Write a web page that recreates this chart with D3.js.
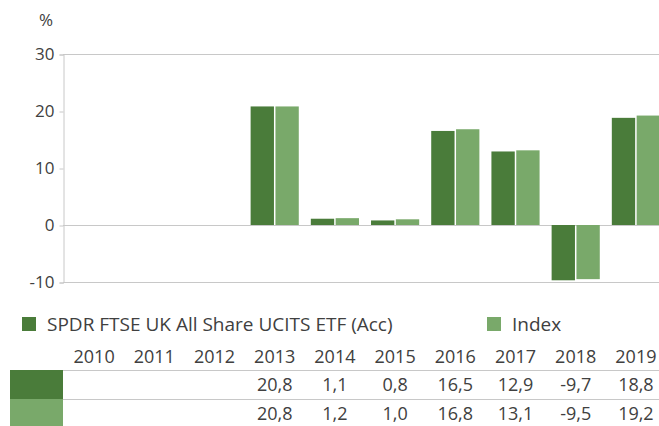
<!DOCTYPE html>
<html>
<head>
<meta charset="utf-8">
<script src="https://cdn.jsdelivr.net/npm/d3@7"></script>
<style>
  body { margin: 0; background: #fff; }
  text { font-family: "Open Sans", sans-serif; fill: #404040; }
</style>
</head>
<body>
<script>
var years = ['2010','2011','2012','2013','2014','2015','2016','2017','2018','2019'];
var fundVals = [null, null, null, 20.8, 1.1, 0.8, 16.5, 12.9, -9.7, 18.8];
var indexVals = [null, null, null, 20.8, 1.2, 1.0, 16.8, 13.1, -9.5, 19.2];
var seriesNames = ['SPDR FTSE UK All Share UCITS ETF (Acc)', 'Index'];
var colors = ['#4a7c3a', '#79a96a'];
var yTicks = [-10, 0, 10, 20, 30];

var width = 659, height = 426;

var svg = d3.select('body').append('svg')
  .attr('width', width)
  .attr('height', height);

var x = d3.scaleBand()
  .domain(years)
  .range([64, 666])
  .paddingInner(0.2)
  .paddingOuter(0.1);

var x1 = d3.scaleBand()
  .domain([0, 1])
  .range([0, x.bandwidth()])
  .paddingInner(0.06);

var y = d3.scaleLinear()
  .domain([-10, 30])
  .range([282, 54]);

var grid = '#c8c8c8';

// gridlines at top, zero and bottom
svg.selectAll('.hline')
  .data([30, 0, -10])
  .enter().append('line')
  .attr('x1', 63).attr('x2', width)
  .attr('y1', function(d) { return y(d) + 0.5; })
  .attr('y2', function(d) { return y(d) + 0.5; })
  .attr('stroke', grid);

// y axis (plain hyphen for negatives, like the source)
var yAxis = d3.axisLeft(y)
  .tickValues(yTicks)
  .tickFormat(function(d) { return String(d); })
  .tickSize(4).tickPadding(5);
var ya = svg.append('g')
  .attr('transform', 'translate(63.5,0.5)')
  .call(yAxis);
ya.select('.domain').attr('stroke', grid);
ya.selectAll('.tick line').attr('stroke', grid);
ya.selectAll('.tick text').style('font-size', '17px').attr('fill', '#404040');

svg.append('text')
  .attr('x', 39).attr('y', 26)
  .style('font-size', '17px')
  .text('%');

// bars
var series = [fundVals, indexVals];
var groups = svg.selectAll('.series')
  .data(series)
  .enter().append('g')
  .attr('fill', function(d, i) { return colors[i]; });

groups.each(function(vals, si) {
  d3.select(this).selectAll('rect')
    .data(vals.map(function(v, i) { return {year: years[i], v: v}; })
               .filter(function(d) { return d.v !== null; }))
    .enter().append('rect')
    .attr('x', function(d) { return x(d.year) + x1(si); })
    .attr('width', x1.bandwidth())
    .attr('y', function(d) { return y(Math.max(0, d.v)); })
    .attr('height', function(d) { return Math.abs(y(d.v) - y(0)); });
});

// legend
var legendX = [22, 487];
var legend = svg.selectAll('.legend')
  .data(seriesNames)
  .enter().append('g')
  .attr('transform', function(d, i) { return 'translate(' + legendX[i] + ',317)'; });
legend.append('rect')
  .attr('width', 14).attr('height', 14)
  .attr('fill', function(d, i) { return colors[i]; });
legend.append('text')
  .attr('x', 25).attr('y', 14)
  .style('font-size', '19px')
  .text(function(d) { return d; });

// table
var fmt = function(v) { return v === null ? '' : v.toFixed(1).replace('.', ','); };

svg.selectAll('.yearlbl')
  .data(years)
  .enter().append('text')
  .attr('x', function(d) { return x(d) + x.bandwidth() / 2; })
  .attr('y', 363)
  .attr('text-anchor', 'middle')
  .style('font-size', '18px')
  .text(function(d) { return d; });

var rowTop = [370, 399];
rowTop.forEach(function(top, ri) {
  svg.append('line')
    .attr('x1', 63).attr('x2', width)
    .attr('y1', top + 0.5).attr('y2', top + 0.5)
    .attr('stroke', grid);
  svg.append('rect')
    .attr('x', 10).attr('y', top)
    .attr('width', 53).attr('height', 29)
    .attr('fill', colors[ri]);
  svg.selectAll('.val' + ri)
    .data(series[ri])
    .enter().append('text')
    .attr('x', function(d, i) { return x(years[i]) + x.bandwidth() / 2; })
    .attr('y', top + 21)
    .attr('text-anchor', 'middle')
    .style('font-size', '18px')
    .text(fmt);
});
</script>
</body>
</html>
